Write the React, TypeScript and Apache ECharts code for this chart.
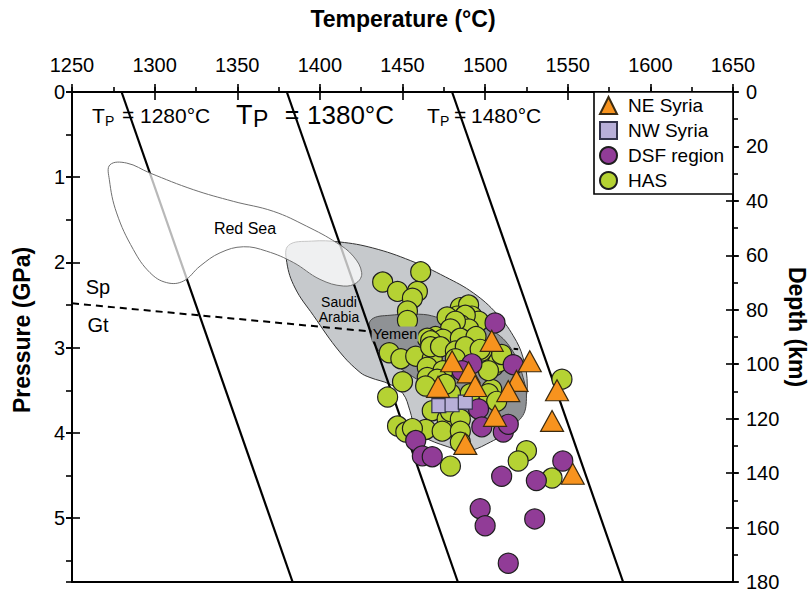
import React, { useEffect, useRef } from "react";
import * as echarts from "echarts";

const FONT = '"Liberation Sans", Arial, Helvetica, sans-serif';

// Axis ranges
const tempMin = 1250;
const tempMax = 1650;
const pressureMax = 5.75;
const depthMax = 180;

// Mantle adiabats (Tp at surface, temperature at the bottom of the plot)
const adiabatTopT = [1280, 1380, 1480];
const adiabatBottomT = [1383.5, 1483.5, 1583.5];

// Spinel / garnet transition
const spGtBoundary: number[][] = [
  [1250, 2.48],
  [1436, 2.82],
  [1520, 3.02],
];

// Fields [T, P]
const redSea: number[][] = [
  [1273, 0.854], [1283.1, 0.834], [1297.2, 0.951], [1323.4, 1.146], [1347.6, 1.283],
  [1371.8, 1.4], [1392, 1.575], [1410.2, 1.77], [1420.2, 1.926], [1425.3, 2.12],
  [1422.3, 2.237], [1414.2, 2.277], [1400.1, 2.199], [1383.9, 2.0], [1367.8, 1.868],
  [1353.7, 1.816], [1339.6, 1.887], [1327.5, 2.043], [1317.4, 2.219], [1307.3, 2.237],
  [1297.2, 2.12], [1287.1, 1.848], [1277, 1.419], [1272.6, 1.029],
];

const saudiArabia: number[][] = [
  [1381, 1.8], [1395, 1.75], [1412, 1.76], [1432, 1.83], [1455, 1.98], [1476, 2.17],
  [1493, 2.36], [1507, 2.6], [1517, 2.86], [1523, 3.12], [1525.5, 3.45], [1523, 3.68],
  [1515, 3.95], [1501, 4.13], [1489, 4.21], [1477, 4.16], [1462, 4.04], [1457.6, 3.95],
  [1454.5, 3.74], [1450.3, 3.54], [1442.4, 3.43], [1430.3, 3.35], [1424.3, 3.29],
  [1412, 3.05], [1396, 2.62], [1385, 2.3], [1380, 2.0],
];

const yemen: number[][] = [
  [1431.4, 2.667], [1442.4, 2.62], [1462.6, 2.61], [1472.7, 2.65], [1490, 2.7],
  [1506, 2.82], [1517, 3.05], [1523, 3.35], [1525, 3.6], [1522, 3.82], [1512, 3.93],
  [1500, 3.89], [1485, 3.72], [1465, 3.45], [1447, 3.22], [1435, 3.02], [1430, 2.8],
];

// Samples [T (°C), P (GPa)]
const neSyria: number[][] = [
  [1504, 2.92], [1480, 3.16], [1527, 3.16], [1490, 3.29], [1519, 3.39], [1494, 3.45],
  [1471.5, 3.46], [1514, 3.51], [1543.5, 3.5], [1506, 3.8], [1540.5, 3.86], [1488, 4.13],
  [1553, 4.48],
];

const nwSyria: number[][] = [
  [1472, 3.68], [1480, 3.67], [1488, 3.64],
];

const dsfRegion: number[][] = [
  [1506, 2.71], [1517, 3.2], [1492, 3.19], [1486, 3.27], [1496, 3.72], [1498, 3.93],
  [1511, 3.99], [1514, 3.9], [1458, 4.09], [1462, 4.27], [1468, 4.28], [1510, 4.51],
  [1531, 4.56], [1547, 4.33], [1497, 4.89], [1500, 5.09], [1530, 5.01], [1514, 5.53],
];

const has: number[][] = [
  [1461, 2.11], [1438, 2.23], [1447, 2.34], [1459, 2.34], [1456, 2.42], [1453, 2.57], [1453, 2.68],
  [1485, 2.53], [1490, 2.5], [1483, 2.63], [1492, 2.63], [1496, 2.69], [1488, 2.62], [1485, 2.73],
  [1490, 2.78], [1477, 2.64], [1482, 2.69], [1479, 2.78], [1470, 2.87], [1465, 2.89], [1474.5, 2.9],
  [1485, 2.89], [1494.5, 2.87], [1467, 2.92], [1442, 3.06], [1449, 3.13], [1458, 3.1], [1468, 3.13],
  [1467, 2.99], [1473, 2.99], [1482, 3.04], [1465, 3.23], [1474.5, 3.27], [1505, 3.22], [1450, 3.4],
  [1465, 3.35], [1471, 3.37], [1464, 3.45], [1441, 3.58], [1504, 3.49], [1546.5, 3.37], [1491, 3.54],
  [1479, 3.54], [1468, 3.74], [1477, 3.84], [1479, 3.75], [1485, 3.84], [1447, 3.92], [1452, 3.99],
  [1464, 3.96], [1474, 3.98], [1485, 3.98], [1456, 3.95], [1479, 4.39], [1485, 4.11], [1525, 4.21],
  [1520, 4.33], [1540.5, 4.53], [1488, 2.99], [1498, 3.04], [1508, 3.17], [1502, 3.27], [1510, 3.08],
  [1502, 3.54], [1507, 3.63], [1497, 3.02], [1482, 3.13], [1476, 3.43],
];

const legendNames = ["NE Syria", "NW Syria", "DSF region", "HAS"];

function polygonSeries(id: string, pts: number[][], style: any, z: number) {
  return {
    type: "custom",
    id,
    name: id,
    z,
    silent: true,
    clip: false,
    data: [pts[0]],
    renderItem: (_params: any, api: any) => ({
      type: "polygon",
      shape: { points: pts.map((p) => api.coord(p)), smooth: 0.4 },
      style: { ...style },
    }),
  };
}

function txt(text: string, x: number, y: number, size: number, align = "center", extra: any = {}) {
  return {
    type: "text",
    x,
    y,
    z: 100,
    silent: true,
    style: {
      text,
      font: `${extra.bold ? "bold " : ""}${size}px ${FONT}`,
      fill: "#000",
      align,
      textAlign: align,
      verticalAlign: "middle",
      textVerticalAlign: "middle",
      ...(extra.bg ? { backgroundColor: extra.bg, padding: [0, 1] } : {}),
    },
    rotation: extra.rotation || 0,
  };
}

const axisCommon = {
  type: "value",
  splitLine: { show: false },
  axisLine: { onZero: false, show: false },
  axisLabel: { show: false },
};

export default function App() {
  const ref = useRef<HTMLDivElement>(null);

  useEffect(() => {
    if (!ref.current) return;
    const chart = echarts.init(ref.current, null, { renderer: "svg" });
    const tickStyle = { color: "#000", width: 1.6 };
    const plain = (v: number) => String(v);
    const option: any = {
      animation: false,
      backgroundColor: "#fff",
      grid: {
        left: 72,
        top: 92,
        width: 661,
        height: 490,
        show: true,
        borderColor: "#000",
        borderWidth: 2,
        backgroundColor: "transparent",
      },
      xAxis: [
        {
          ...axisCommon,
          position: "top",
          min: tempMin,
          max: tempMax,
          interval: 50,
          axisLine: { show: true, onZero: false, lineStyle: { color: "#000", width: 2 } },
          axisTick: { show: true, inside: false, length: 8, lineStyle: tickStyle },
          axisLabel: { show: true, margin: 17, fontSize: 20, color: "#000", fontFamily: FONT, formatter: plain },
        },
        {
          ...axisCommon,
          position: "top",
          min: tempMin,
          max: tempMax,
          interval: 50,
          axisTick: { show: true, inside: true, length: 8, lineStyle: tickStyle },
        },
        {
          ...axisCommon,
          position: "top",
          min: tempMin,
          max: tempMax,
          interval: 25,
          axisTick: { show: true, inside: false, length: 5, lineStyle: tickStyle },
        },
      ],
      yAxis: [
        {
          ...axisCommon,
          position: "left",
          inverse: true,
          min: 0,
          max: pressureMax,
          interval: 1,
          axisLine: { show: true, onZero: false, lineStyle: { color: "#000", width: 2 } },
          axisTick: { show: true, inside: false, length: 6, lineStyle: tickStyle },
          axisLabel: {
            show: true,
            margin: 7,
            fontSize: 20,
            color: "#000",
            fontFamily: FONT,
            showMaxLabel: false,
            formatter: plain,
          },
        },
        {
          ...axisCommon,
          position: "left",
          inverse: true,
          min: 0,
          max: pressureMax,
          interval: 1,
          axisTick: { show: true, inside: true, length: 8, lineStyle: tickStyle },
        },
        {
          ...axisCommon,
          position: "left",
          inverse: true,
          min: 0,
          max: pressureMax,
          interval: 0.5,
          axisTick: { show: true, inside: false, length: 6, lineStyle: tickStyle },
        },
        {
          ...axisCommon,
          position: "right",
          inverse: true,
          min: 0,
          max: depthMax,
          interval: 20,
          axisLine: { show: true, onZero: false, lineStyle: { color: "#000", width: 2 } },
          axisTick: { show: true, inside: false, length: 6, lineStyle: tickStyle },
          axisLabel: { show: true, margin: 13, fontSize: 20, color: "#000", fontFamily: FONT, formatter: plain },
        },
        {
          ...axisCommon,
          position: "right",
          inverse: true,
          min: 0,
          max: depthMax,
          interval: 20,
          axisTick: { show: true, inside: true, length: 7, lineStyle: tickStyle },
        },
        {
          ...axisCommon,
          position: "right",
          inverse: true,
          min: 0,
          max: depthMax,
          interval: 10,
          axisTick: { show: true, inside: false, length: 5, lineStyle: tickStyle },
        },
      ],
      legend: {
        data: legendNames,
        orient: "vertical",
        left: 599,
        top: 96,
        padding: 0,
        itemWidth: 17,
        itemHeight: 17,
        itemGap: 6,
        selectedMode: false,
        z: 20,
        textStyle: { fontSize: 19, color: "#000", fontFamily: FONT, padding: [0, 0, 0, 6] },
      },
      graphic: {
        elements: [
          {
            type: "rect",
            z: 15,
            silent: true,
            shape: { x: 594, y: 92, width: 139, height: 102 },
            style: { fill: "#fff", stroke: "#000", lineWidth: 1.6 },
          },
          txt("Temperature (°C)", 403, 19, 23, "center", { bold: true }),
          txt("Pressure (GPa)", 22, 330, 23, "center", { bold: true, rotation: Math.PI / 2 }),
          txt("Depth (km)", 797, 327, 23, "center", { bold: true, rotation: -Math.PI / 2 }),
          // Tp labels
          txt("T", 92, 115, 21, "left"),
          txt("P", 105, 121, 14, "left"),
          txt("=", 128, 114, 21, "center"),
          txt("1280°C", 140, 115, 21, "left"),
          txt("T", 236, 115, 27, "left"),
          txt("P", 253, 119, 23, "left"),
          txt("=", 292, 114, 25, "center"),
          txt("1380°C", 307, 115, 26, "left"),
          txt("T", 427, 115, 21, "left"),
          txt("P", 440, 121, 14, "left"),
          txt("=", 460, 114, 21, "center"),
          txt("1480°C", 471, 115, 21, "left"),
          // phase labels
          txt("Sp", 98, 287, 20, "center"),
          txt("Gt", 98, 325, 20, "center"),
          // field labels
          txt("Red Sea", 245, 228, 16, "center"),
          txt("Saudi", 339, 302, 14, "center"),
          txt("Arabia", 339, 317, 14, "center"),
          txt("Yemen", 395, 334, 14.5, "center", { bg: "#8f9295" }),
        ],
      },
      series: [
        polygonSeries("Saudi Arabia field", saudiArabia, { fill: "#c6c9cc", stroke: "#333", lineWidth: 1 }, 1),
        polygonSeries("Yemen field", yemen, { fill: "#8f9295", stroke: "#444", lineWidth: 1 }, 1),
        ...adiabatTopT.map((tp, i) => ({
          type: "line",
          name: `Tp ${tp}`,
          data: [
            [tp, 0],
            [adiabatBottomT[i], pressureMax],
          ],
          symbol: "none",
          silent: true,
          lineStyle: { color: "#000", width: 2.2 },
          z: 2,
        })),
        polygonSeries(
          "Red Sea field",
          redSea,
          { fill: "rgba(255,255,255,0.72)", stroke: "#707070", lineWidth: 1 },
          3
        ),
        {
          type: "line",
          name: "Sp-Gt",
          data: spGtBoundary,
          symbol: "none",
          silent: true,
          lineStyle: { color: "#000", width: 2, type: [7, 5] },
          z: 3,
        },
        {
          type: "scatter",
          name: "HAS",
          data: has,
          symbol: "circle",
          symbolSize: 20,
          itemStyle: { color: "#b5d233", borderColor: "#1e1e1e", borderWidth: 1.2, opacity: 1 },
          z: 5,
        },
        {
          type: "scatter",
          name: "DSF region",
          data: dsfRegion,
          symbol: "circle",
          symbolSize: 20,
          itemStyle: { color: "#913c97", borderColor: "#1e1e1e", borderWidth: 1.2, opacity: 1 },
          z: 6,
        },
        {
          type: "scatter",
          name: "NW Syria",
          data: nwSyria,
          symbol: "rect",
          symbolSize: 14,
          itemStyle: { color: "#b8afd8", borderColor: "#33334a", borderWidth: 1.2, opacity: 1 },
          z: 7,
        },
        {
          type: "scatter",
          name: "NE Syria",
          data: neSyria,
          symbol: "triangle",
          symbolSize: [23, 21],
          itemStyle: { color: "#f7931e", borderColor: "#3a2a10", borderWidth: 1.2, opacity: 1 },
          z: 8,
        },
      ],
    };
    chart.setOption(option);
    return () => chart.dispose();
  }, []);

  return (
    <div
      ref={ref}
      style={{ position: "fixed", left: 0, top: 0, width: 812, height: 592, background: "#fff" }}
    />
  );
}
